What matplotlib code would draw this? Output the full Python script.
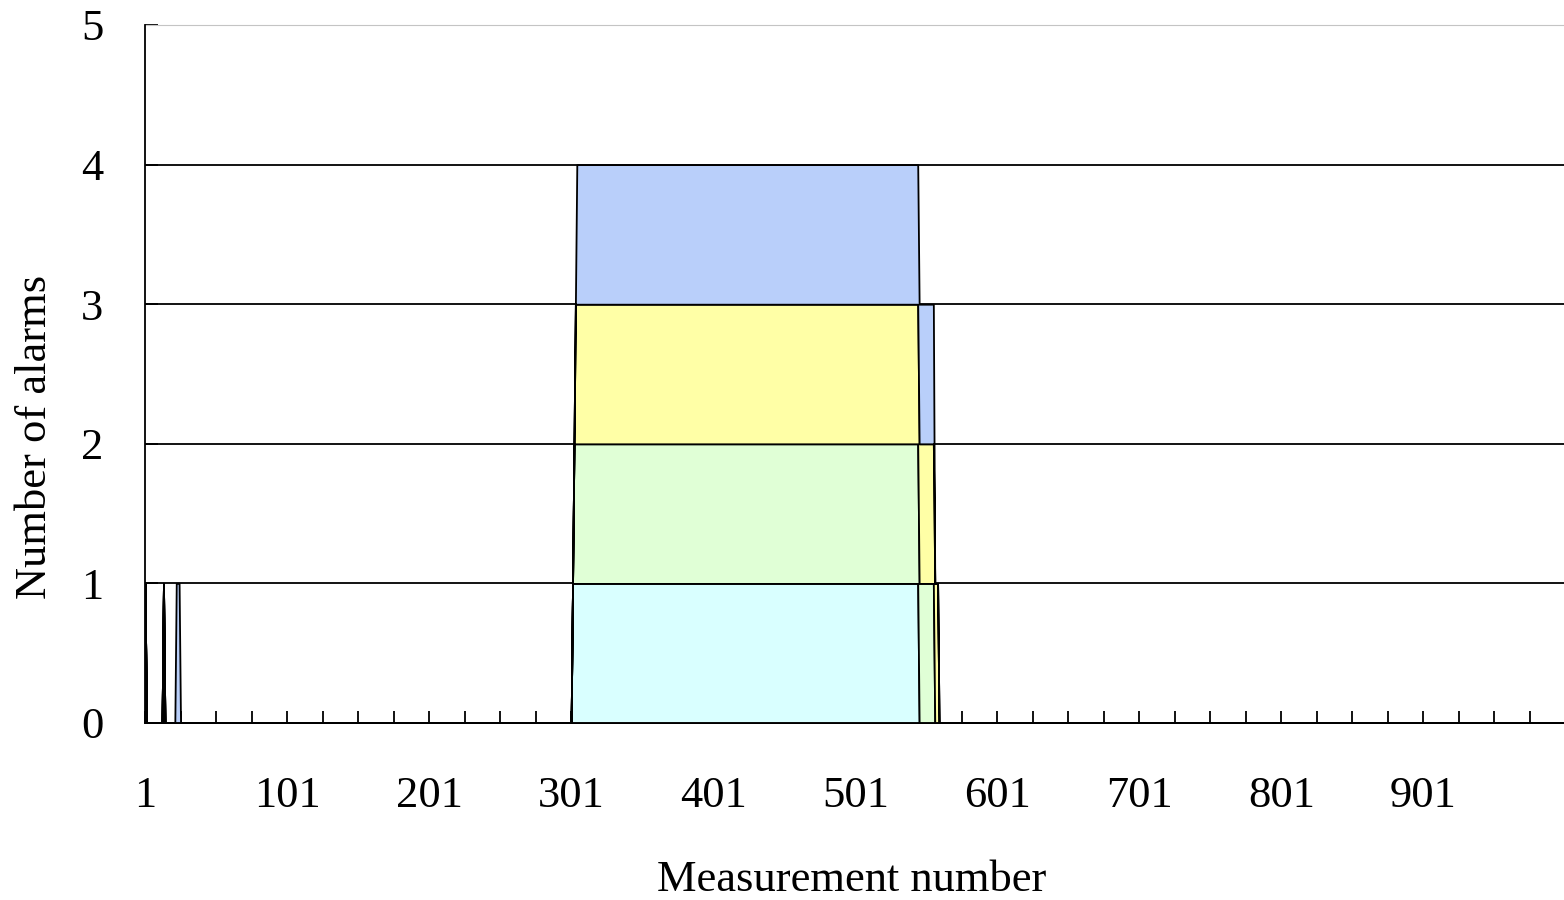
import numpy as np
import matplotlib
matplotlib.use("Agg")
import matplotlib.pyplot as plt

# measurement numbers 1..1000
n_meas = 1000
x = np.arange(1, n_meas + 1)

# alarm periods (first, last measurement) for each monitored variable
orange_on = [(1, 1)]
cyan_on = [(14, 14), (302, 545)]
green_on = [(303, 556)]
yellow_on = [(304, 559)]
blue_on = [(23, 25), (305, 556)]

series_periods = [orange_on, cyan_on, green_on, yellow_on, blue_on]
series_colors = ["#F4A460", "#D9FFFF", "#E0FFD6", "#FFFFA6", "#B9CFFA"]

xtick_labels = [1, 101, 201, 301, 401, 501, 601, 701, 801, 901]
ytick_labels = [0, 1, 2, 3, 4, 5]


def alarm_array(periods):
    a = np.zeros(n_meas)
    for first, last in periods:
        a[first - 1:last] = 1
    return a


ys = [alarm_array(p) for p in series_periods]

plt.rcParams['font.family'] = ['Liberation Serif', 'DejaVu Serif']

fig = plt.figure(figsize=(15.64, 9.0), dpi=100)
ax = fig.add_axes([145 / 1564, 1 - 723 / 900, 1 - 145 / 1564, (723 - 25) / 900])

# horizontal gridlines (black, like the excel chart)
for g in [1, 2, 3, 4]:
    ax.axhline(g, color='black', lw=1.3, zorder=1)

ax.stackplot(x, *ys, colors=series_colors, edgecolor='black', linewidth=1.3, zorder=2)

ax.set_xlim(1, n_meas)
ax.set_ylim(0, 5)

ax.set_xticks(xtick_labels)
ax.set_xticklabels([str(v) for v in xtick_labels])
ax.set_xticks([v for v in range(1, n_meas, 25) if v not in xtick_labels], minor=True)
ax.set_yticks(ytick_labels)
ax.set_yticklabels([str(v) for v in ytick_labels])

ax.tick_params(axis='x', which='both', direction='in', length=9, width=1.3, pad=38, labelsize=32)
ax.tick_params(axis='y', direction='in', length=9, width=1.3, pad=30, labelsize=32)

ax.spines['right'].set_visible(False)
ax.spines['top'].set_color('#C4C4C4')
ax.spines['left'].set_linewidth(1.3)
ax.spines['bottom'].set_linewidth(1.3)
for s in ['left', 'bottom']:
    ax.spines[s].set_zorder(5)

# axis titles placed where the original has them
fig.text(852 / 1564, 1 - 880 / 900, "Measurement number", fontsize=32, ha='center', va='center')
fig.text(35 / 1564, 1 - 437 / 900, "Number of alarms", fontsize=32, ha='center', va='center', rotation=90)

fig.savefig("out.png", dpi=100)
